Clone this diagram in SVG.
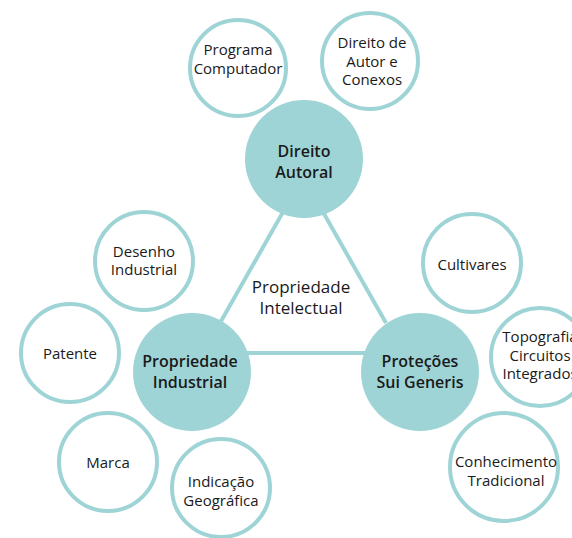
<svg xmlns="http://www.w3.org/2000/svg" width="572" height="538" viewBox="0 0 572 538">
<style>
.big{fill:#9fd4d6;stroke:none}
.sm{fill:#fff;stroke:#9fd4d6;stroke-width:4}
.lk{stroke:#9fd4d6;stroke-width:4;fill:none}
text{font-family:"Open Sans","Noto Sans",sans-serif;fill:#1a1a1a;text-anchor:middle}
.t{font-size:15px}
.b{font-size:16px;font-weight:600}
.c{font-size:17px}
</style>
<rect width="572" height="538" fill="#fff"/>
<g id="connectors">
<line class="lk" x1="283" y1="212" x2="220" y2="323"/>
<line class="lk" x1="323" y1="212" x2="386" y2="323"/>
<line class="lk" x1="245" y1="353" x2="366" y2="353"/>
</g>
<g id="center"><text class="c" x="301" y="293">Propriedade</text><text class="c" x="301" y="314">Intelectual</text></g>
<g id="direito-autoral"><circle class="big" cx="304" cy="159" r="59"/><text class="b" x="304" y="157">Direito</text><text class="b" x="304" y="178">Autoral</text></g>
<g id="propriedade-industrial"><circle class="big" cx="192" cy="372" r="59"/><text class="b" x="190" y="367">Propriedade</text><text class="b" x="190" y="388">Industrial</text></g>
<g id="protecoes"><circle class="big" cx="420" cy="372" r="59"/><text class="b" x="420" y="367">Proteções</text><text class="b" x="420" y="388">Sui Generis</text></g>
<g id="programa"><circle class="sm" cx="238" cy="68" r="48"/><text class="t" x="238" y="55">Programa</text><text class="t" x="238" y="74">Computador</text></g>
<g id="direito-autor"><circle class="sm" cx="370" cy="61" r="48"/><text class="t" x="372" y="48">Direito de</text><text class="t" x="372" y="67">Autor e</text><text class="t" x="372" y="85">Conexos</text></g>
<g id="desenho"><circle class="sm" cx="144" cy="261" r="49"/><text class="t" x="144" y="257">Desenho</text><text class="t" x="144" y="275">Industrial</text></g>
<g id="patente"><circle class="sm" cx="70" cy="353" r="49"/><text class="t" x="70" y="359">Patente</text></g>
<g id="marca"><circle class="sm" cx="108" cy="462" r="49"/><text class="t" x="108" y="468">Marca</text></g>
<g id="indicacao"><circle class="sm" cx="221" cy="488" r="49"/><text class="t" x="221" y="487">Indicação</text><text class="t" x="221" y="506">Geográfica</text></g>
<g id="cultivares"><circle class="sm" cx="472" cy="263" r="49"/><text class="t" x="472" y="270">Cultivares</text></g>
<g id="topografia"><circle class="sm" cx="540" cy="357" r="49"/><text class="t" x="540" y="342">Topografia</text><text class="t" x="540" y="361">Circuitos</text><text class="t" x="540" y="379">Integrados</text></g>
<g id="conhecimento"><circle class="sm" cx="504" cy="467" r="54"/><text class="t" x="506" y="467">Conhecimento</text><text class="t" x="506" y="486">Tradicional</text></g>
</svg>
